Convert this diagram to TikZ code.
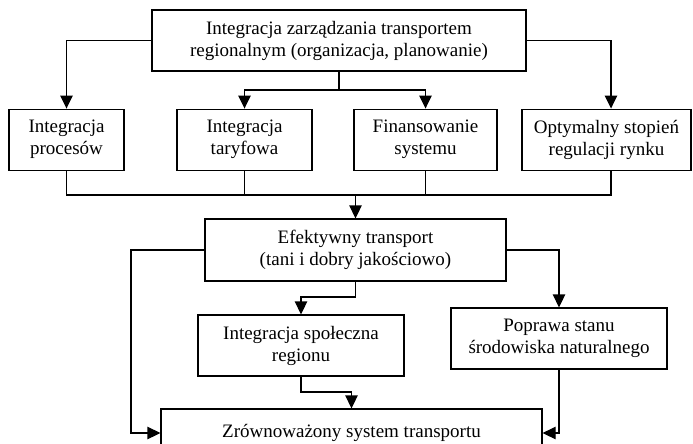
\documentclass[tikz,border=0pt]{standalone}
\usepackage{fontspec}
\setmainfont{Liberation Serif}
\usetikzlibrary{arrows.meta}
\begin{document}
\begin{tikzpicture}[x=1pt,y=-1pt,
  box/.style={draw, line width=1.3pt, rectangle, align=center, inner sep=0pt,
    font=\fontsize{19}{22}\selectfont},
  arr/.style={line width=1.3pt, -{Triangle[length=13pt,width=12.5pt]}},
  ln/.style={line width=1.3pt}]
\useasboundingbox (0,0) rectangle (693,444);
\clip (0,0) rectangle (693,444);
\node[box, minimum width=374pt, minimum height=61pt] (top) at (339,40.5)
  {Integracja zarządzania transportem\\regionalnym (organizacja, planowanie)};
\node[box, minimum width=115pt, minimum height=61pt] (b1) at (66.5,139.7)
  {Integracja\\procesów};
\node[box, minimum width=135pt, minimum height=61pt] (b2) at (244.5,139.7)
  {Integracja\\taryfowa};
\node[box, minimum width=143pt, minimum height=61pt] (b3) at (425.5,139.7)
  {Finansowanie\\systemu};
\node[box, minimum width=169pt, minimum height=61pt] (b4) at (606.5,139.7)
  {Optymalny stopień\\regulacji rynku};
\node[box, minimum width=301pt, minimum height=62pt] (ef) at (355.5,250)
  {Efektywny transport\\(tani i dobry jakościowo)};
\node[box, minimum width=206pt, minimum height=61pt] (is) at (301,345.5)
  {Integracja społeczna\\regionu};
\node[box, minimum width=216pt, minimum height=61pt] (pop) at (559,338.5)
  {Poprawa stanu\\środowiska naturalnego};
\node[box, minimum width=381pt, minimum height=48pt] (zr) at (351.5,433)
  {Zrównoważony system transportu};
% top connectors
\coordinate (T) at (339,90);
\draw[ln] (top.south) -- (T);
\draw[arr] (T) -| (b2.north);
\draw[arr] (T) -| (b3.north);
\draw[arr] (top.west) -| (b1.north);
\draw[arr] (top.east) -| ([xshift=4.5pt]b4.north);
% bus under row 2
\coordinate (J) at (355.5,195);
\draw[ln] (b1.south) |- (J);
\draw[ln] (b2.south) -- (b2.south |- J);
\draw[ln] (b3.south) -- (b3.south |- J);
\draw[ln] ([xshift=4.5pt]b4.south) |- (J);
\draw[arr] (J) -- (ef.north);
% lower part
\coordinate (L) at (131,250);
\draw[arr] (ef.west) -- (L) |- (zr.west);
\draw[arr] (ef.east) -| (pop.north);
\draw[arr] (pop.south) |- (zr.east);
\coordinate (E) at (355.5,297);
\draw[arr] (ef.south) -- (E) -| (is.north);
\coordinate (S) at (301,392);
\draw[arr] (is.south) -- (S) -| (zr.north);
\end{tikzpicture}
\end{document}
